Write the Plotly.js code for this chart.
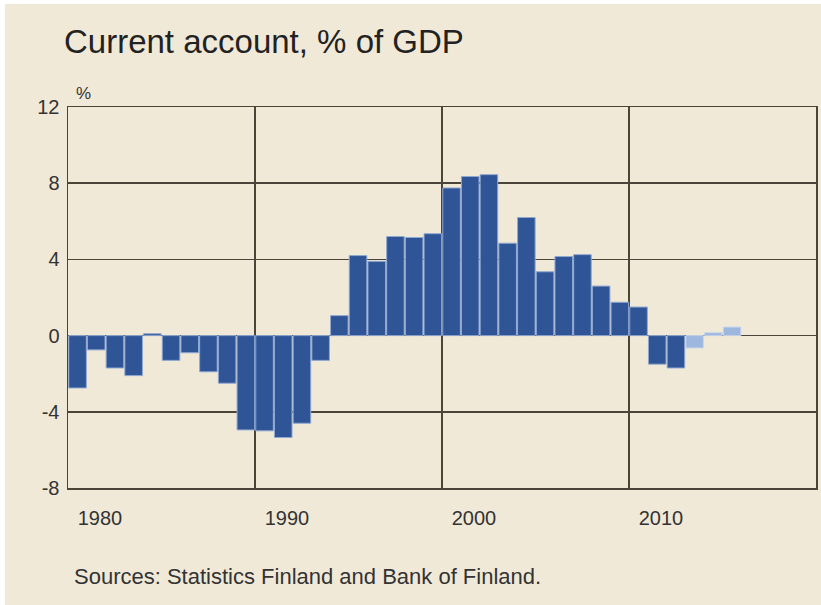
<!DOCTYPE html>
<html>
<head>
<meta charset="utf-8">
<script src="https://cdn.plot.ly/plotly-3.0.1.min.js"></script>
<style>
  html, body { margin: 0; padding: 0; background: #ffffff; }
  #wrap { position: absolute; left: 5px; top: 4px; width: 816px; height: 601px; }
  #chart { width: 816px; height: 601px; }
</style>
</head>
<body>
<div id="wrap"><div id="chart"></div></div>
<script>
// Data
const actualYears = [1980,1981,1982,1983,1984,1985,1986,1987,1988,1989,
                     1990,1991,1992,1993,1994,1995,1996,1997,1998,1999,
                     2000,2001,2002,2003,2004,2005,2006,2007,2008,2009,
                     2010,2011,2012];
const actualValues = [-2.75,-0.75,-1.7,-2.1,0.1,-1.3,-0.9,-1.9,-2.5,-4.95,
                      -5.0,-5.35,-4.6,-1.3,1.05,4.2,3.9,5.2,5.15,5.35,
                      7.75,8.35,8.45,4.85,6.2,3.35,4.15,4.25,2.6,1.75,
                      1.5,-1.5,-1.7];
const forecastYears = [2013,2014,2015];
const forecastValues = [-0.65,0.15,0.45];

const xTickVals = [1980,1990,2000,2010];
const xTickText = ['1980','1990','2000','2010'];
const yTickVals = [-8,-4,0,4,8,12];
const yTickText = ['-8','-4','0','4','8','12'];

const titleText = 'Current account, % of GDP';
const unitText = '%';
const sourceText = 'Sources: Statistics Finland and Bank of Finland.';

const BG = '#F1E9D8';
const GRID = '#4a4439';
const FONT = 'Liberation Sans, Arial, sans-serif';

const traces = [
  {
    type: 'bar', x: actualYears, y: actualValues,
    width: 0.94, offset: 0.04,
    marker: { color: '#2F5596', line: { color: '#90A8D1', width: 1 } },
    hoverinfo: 'x+y', showlegend: false
  },
  {
    type: 'bar', x: forecastYears, y: forecastValues,
    width: 0.94, offset: 0.04,
    marker: { color: '#9DB7DF', line: { color: '#C9D6EC', width: 1 } },
    hoverinfo: 'x+y', showlegend: false
  }
];

const layout = {
  width: 816, height: 601,
  paper_bgcolor: BG, plot_bgcolor: BG,
  margin: { l: 63, r: 5, t: 103, b: 117, pad: 0 },
  font: { family: FONT, color: '#2b2b2b' },
  barmode: 'overlay',
  title: {
    text: titleText,
    font: { family: FONT, size: 33, color: '#222222' },
    xref: 'container', yref: 'container',
    x: 59/816, xanchor: 'left',
    y: 1 - 26/601, yanchor: 'top'
  },
  xaxis: {
    range: [1980, 2020],
    tickvals: xTickVals, ticktext: xTickText,
    showgrid: true, gridcolor: GRID, gridwidth: 1.5,
    showline: true, linecolor: GRID, linewidth: 1.5, mirror: true,
    ticks: '', zeroline: false,
    tickfont: { family: FONT, size: 20, color: '#333333' },
    ticklabelshift: 32, ticklabelstandoff: 11,
    fixedrange: true
  },
  yaxis: {
    range: [-8, 12],
    tickvals: yTickVals, ticktext: yTickText,
    showgrid: true, gridcolor: GRID, gridwidth: 1.5,
    zeroline: true, zerolinecolor: GRID, zerolinewidth: 1.5,
    showline: true, linecolor: GRID, linewidth: 1.5, mirror: true,
    ticks: '', ticklabelstandoff: 3,
    tickfont: { family: FONT, size: 20, color: '#333333' },
    fixedrange: true
  },
  annotations: [
    {
      text: unitText, xref: 'paper', yref: 'paper',
      x: 0, y: 1, xanchor: 'left', yanchor: 'bottom',
      xshift: 6, yshift: 2, showarrow: false,
      font: { family: FONT, size: 17, color: '#333333' }
    },
    {
      text: sourceText, xref: 'paper', yref: 'paper',
      x: 0, y: 0, xanchor: 'left', yanchor: 'top',
      xshift: 4, yshift: -74, showarrow: false,
      font: { family: FONT, size: 22, color: '#333333' }
    }
  ]
};

Plotly.newPlot('chart', traces, layout, { displayModeBar: false, staticPlot: true });
</script>
</body>
</html>
